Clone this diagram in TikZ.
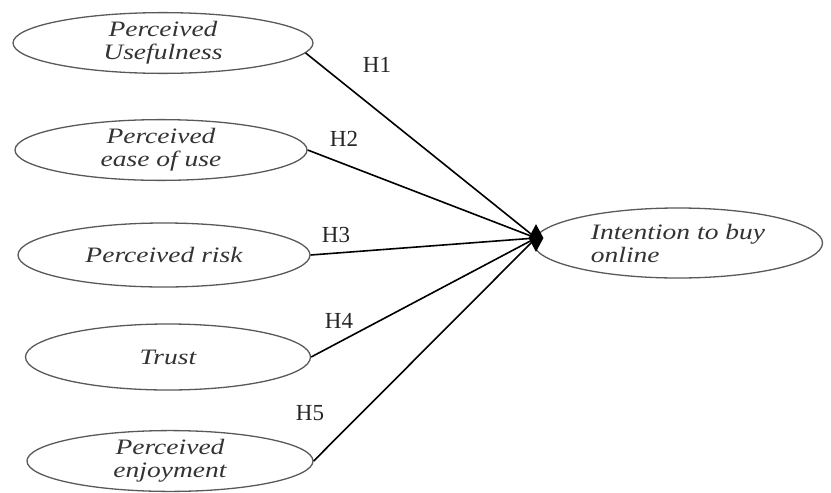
\documentclass[tikz,border=0pt]{standalone}
\usepackage{fontspec}
\setmainfont{Liberation Serif}
\newfontfamily\ellfont[FakeStretch=1.25]{Liberation Serif}
\usetikzlibrary{shapes.geometric}
\begin{document}
\begin{tikzpicture}[x=1pt,y=-1pt,
  construct/.style={ellipse,draw=black!65,line width=1.3pt,inner sep=0pt,
    font=\ellfont\itshape\fontsize{22}{23}\selectfont,text=black!80,align=center},
  path/.style={draw=black,line width=1.6pt},
  hyp/.style={font=\fontsize{23}{24}\selectfont,text=black!85},
  hubstyle/.style={diamond,fill=black,inner sep=0pt,minimum width=15pt,minimum height=28pt}]
\useasboundingbox (0,0) rectangle (831,493);
\node[construct,minimum width=300pt,minimum height=57pt] (pu) at (163,43) {Perceived\\Usefulness};
\node[construct,minimum width=292pt,minimum height=60pt] (peou) at (161,150) {Perceived\\ease of use};
\node[construct,minimum width=292pt,minimum height=64pt] (pr) at (164,255) {Perceived risk};
\node[construct,minimum width=285pt,minimum height=66pt] (tr) at (168,357) {Trust};
\node[construct,minimum width=286pt,minimum height=60pt] (pe) at (170,461) {Perceived\\enjoyment};
\node[construct,minimum width=289pt,minimum height=70pt,align=left] (ib) at (678,243) {Intention to buy\\online};
\node[hubstyle] (hub) at (536,238) {};
\draw[path] (pu.-4) -- (hub.center);
\draw[path] (peou.east) -- (hub.center);
\draw[path] (pr.east) -- (hub.center);
\draw[path] (tr.east) -- (hub.center);
\draw[path] (pe.east) -- (hub.center);
\node[hyp] (h1) at (377,65) {H1};
\node[hyp] (h2) at (344,139) {H2};
\node[hyp] (h3) at (336,235) {H3};
\node[hyp] (h4) at (339,321) {H4};
\node[hyp] (h5) at (310,413) {H5};
\end{tikzpicture}
\end{document}
